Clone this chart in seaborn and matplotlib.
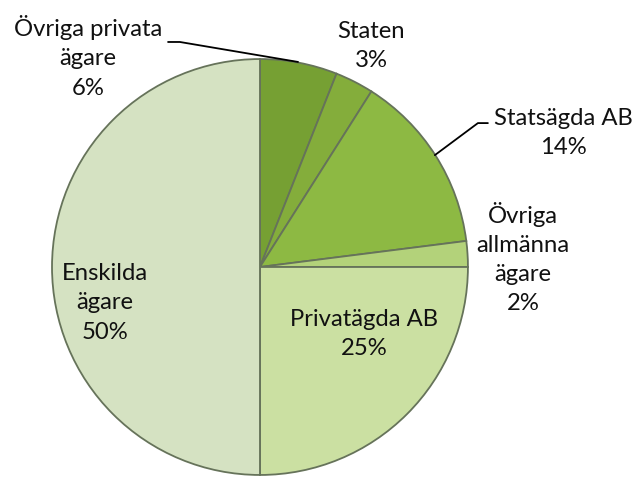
import matplotlib
matplotlib.use("Agg")
import matplotlib.pyplot as plt
import seaborn as sns

# ägarkategorier, medurs från klockan 12
categories = ["Övriga privata\nägare", "Staten", "Statsägda AB",
              "Övriga\nallmänna\nägare", "Privatägda AB", "Enskilda\nägare"]
shares = [6, 3, 14, 2, 25, 50]
colors = ["#76a033", "#84ad3b", "#8db943", "#b3d27a", "#cbe0a2", "#d5e2c2"]

# label anchor points (data coords, pie radius = 1)
label_pos = [(-0.827, 1.010), (0.534, 1.063), (1.457, 0.644),
             (1.264, 0.043), (0.50, -0.322), (-0.745, -0.173)]

sns.set_theme(style="white")
plt.rcParams["font.family"] = ["Lato", "DejaVu Sans"]

fig = plt.figure(figsize=(6.35, 4.8), dpi=100)
ax = fig.add_axes([0.0819, 0.0104, 0.655, 0.8667])

wedges, _ = ax.pie(shares, colors=colors, startangle=90, counterclock=False,
                   radius=1.0,
                   wedgeprops=dict(edgecolor="#66735a", linewidth=1.3))
ax.set_xlim(-1, 1)
ax.set_ylim(-1, 1)
ax.axis("off")

for cat, val, (x, y) in zip(categories, shares, label_pos):
    ax.text(x, y, f"{cat}\n{val}%", ha="center", va="center",
            fontsize=17.2, linespacing=1.48, color="#111111", clip_on=False)

# leader lines for the two outside labels with connectors
ax.plot([-0.442, -0.385, 0.183], [1.082, 1.082, 0.986], color="black",
        lw=1.3, clip_on=False)
ax.plot([0.841, 1.048, 1.096], [0.538, 0.692, 0.692], color="black",
        lw=1.3, clip_on=False)

fig.savefig("out.png", dpi=100)
